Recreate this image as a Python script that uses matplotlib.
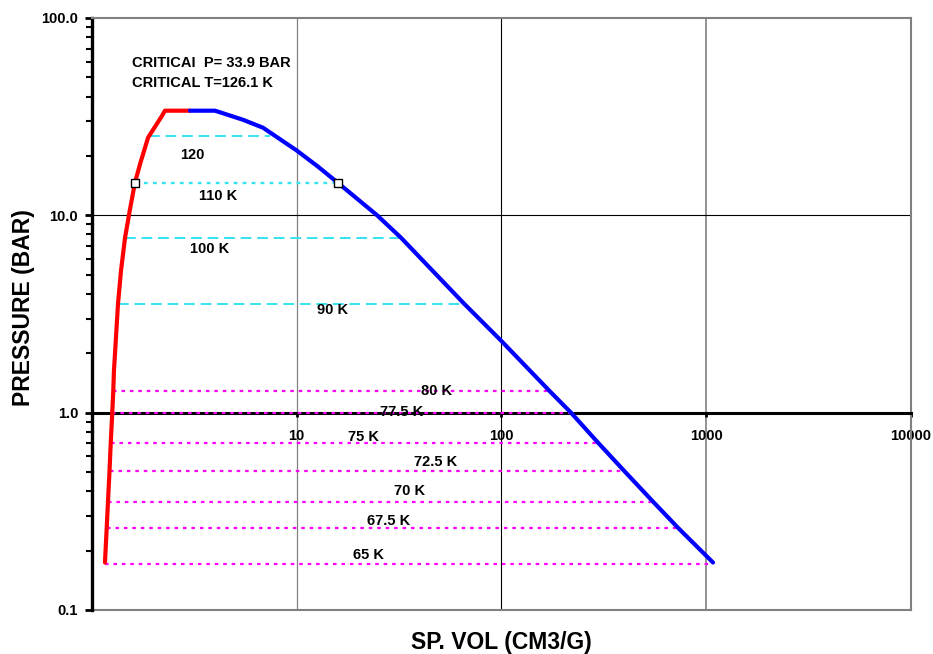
# saturation dome of nitrogen, P-v diagram, log-log
import matplotlib
matplotlib.use('Agg')
import matplotlib.pyplot as plt

plt.rcParams['font.family'] = ['Liberation Sans', 'DejaVu Sans']
plt.rcParams['font.weight'] = 'bold'

# saturated liquid branch (red)
liq_vol = [1.157, 1.18, 1.197, 1.218, 1.235, 1.256, 1.27, 1.28, 1.34,
           1.386, 1.45, 1.53, 1.62, 1.72, 1.88, 2.08, 2.20, 2.27, 3.01]
liq_pres = [0.174, 0.261, 0.354, 0.508, 0.705, 1.0, 1.28, 1.63, 3.57,
            5.25, 7.7, 10.6, 14.6, 18.3, 24.8, 29.2, 32.0, 33.9, 33.9]

# saturated vapour branch (blue)
vap_vol = [3.01, 3.99, 5.46, 6.84, 10.0, 12.7, 15.9, 24.7, 32.3, 65.6, 99.4,
           172.6, 218.5, 296, 396.6, 549.6, 727.8, 1079]
vap_pres = [33.9, 33.9, 30.5, 27.8, 21.3, 17.65, 14.6, 10.0, 7.7, 3.57, 2.32,
            1.28, 1.0, 0.705, 0.508, 0.354, 0.261, 0.174]

# tie lines at each temperature
temps = ['65 K', '67.5 K', '70 K', '72.5 K', '75 K', '77.5 K', '80 K',
         '90 K', '100 K', '110 K', '120']
tie_pres = [0.172, 0.261, 0.354, 0.508, 0.705, 1.0, 1.28, 3.57, 7.7, 14.6, 25.1]
tie_vliq = [1.157, 1.18, 1.197, 1.218, 1.235, 1.256, 1.27, 1.34, 1.45, 1.62, 1.90]
tie_vvap = [1079, 727.8, 549.6, 396.6, 296, 218.5, 172.6, 65.6, 32.3, 15.9, 7.4]
label_x = [22.3, 28.2, 35.7, 47.9, 21.1, 32.7, 48.4, 14.9, 3.77, 4.12, 3.08]
label_y = [0.191, 0.284, 0.402, 0.565, 0.756, 1.01, 1.29, 3.33, 6.78, 12.6, 20.3]

fig = plt.figure(figsize=(9.33, 6.54), dpi=100)
ax = fig.add_axes([0.0986, 0.0673, 0.8778, 0.9052])
ax.set_xscale('log')
ax.set_yscale('log')
ax.set_xlim(1, 10000)
ax.set_ylim(0.1, 100)

# grid lines
ax.axvline(10, color='#808080', lw=0.9, zorder=1)
ax.axvline(100, color='black', lw=0.8, zorder=1)
ax.axvline(1000, color='#808080', lw=1.2, zorder=1)
ax.axhline(10, color='black', lw=0.8, zorder=1)
ax.axhline(0.1, color='#808080', lw=1.5, zorder=1, clip_on=False)

cyan = '#33E3F0'
magenta = '#FF00FF'
for i, t in enumerate(temps):
    xs = [tie_vliq[i], tie_vvap[i]]
    ys = [tie_pres[i], tie_pres[i]]
    if t == '110 K':
        ax.plot(xs, ys, color=cyan, lw=1.7, dashes=(1.6, 2.2), zorder=3)
        ax.plot(xs, ys, ls='none', marker='s', ms=6, mfc='white',
                mec='black', mew=1, zorder=6)
    elif t in ('90 K', '100 K', '120'):
        ax.plot(xs, ys, color=cyan, lw=1.4, dashes=(5.5, 3), zorder=3)
    else:
        ax.plot(xs, ys, color=magenta, lw=1.6, dashes=(1.6, 2.2), zorder=3)
    ax.text(label_x[i], label_y[i], t, fontsize=10.5, fontweight='bold',
            ha='center', va='center', zorder=5)

ax.plot(liq_vol, liq_pres, color='#FF0000', lw=3, zorder=4,
        solid_capstyle='round', solid_joinstyle='round')
ax.plot(vap_vol, vap_pres, color='#0000FF', lw=3, zorder=4,
        solid_capstyle='round', solid_joinstyle='round')

ax.text(1.568, 59.4, 'CRITICAI  P= 33.9 BAR', fontsize=10.5,
        fontweight='bold', ha='left', va='center')
ax.text(1.568, 47.1, 'CRITICAL T=126.1 K', fontsize=10.5,
        fontweight='bold', ha='left', va='center')

# spines: x axis crosses at 1.0
ax.spines['bottom'].set_position(('data', 1.0))
ax.spines['bottom'].set_linewidth(2.2)
ax.spines['bottom'].set_color('black')
ax.spines['bottom'].set_zorder(2.6)
ax.spines['left'].set_linewidth(2.4)
ax.spines['left'].set_color('black')
for s in ('top', 'right'):
    ax.spines[s].set_color('#808080')
    ax.spines[s].set_linewidth(1.5)

ax.set_xticks([10, 100, 1000, 10000])
ax.set_xticklabels(['10', '100', '1000', '10000'])
ax.xaxis.set_minor_locator(matplotlib.ticker.NullLocator())
ax.tick_params(axis='x', which='major', direction='out', length=3, width=2,
               pad=9, labelsize=10.5)

ax.set_yticks([0.1, 1, 10, 100])
ax.set_yticklabels(['0.1', '1.0', '10.0', '100.0'])
ax.yaxis.set_minor_locator(matplotlib.ticker.LogLocator(base=10, subs=range(2, 10)))
ax.yaxis.set_minor_formatter(matplotlib.ticker.NullFormatter())
ax.tick_params(axis='y', which='major', direction='out', length=5, width=2,
               pad=5, labelsize=10.5)
ax.tick_params(axis='y', which='minor', direction='out', length=4, width=1.5)
for lab in ax.get_xticklabels() + ax.get_yticklabels():
    lab.set_fontweight('bold')

fig.text(0.537, 0.018, 'SP. VOL (CM3/G)', fontsize=16.5, fontweight='bold',
         ha='center', va='center')
fig.text(0.0247, 0.529, 'PRESSURE (BAR)', fontsize=16.5, fontweight='bold',
         ha='center', va='center', rotation=90)

fig.savefig('out.png', dpi=100)
